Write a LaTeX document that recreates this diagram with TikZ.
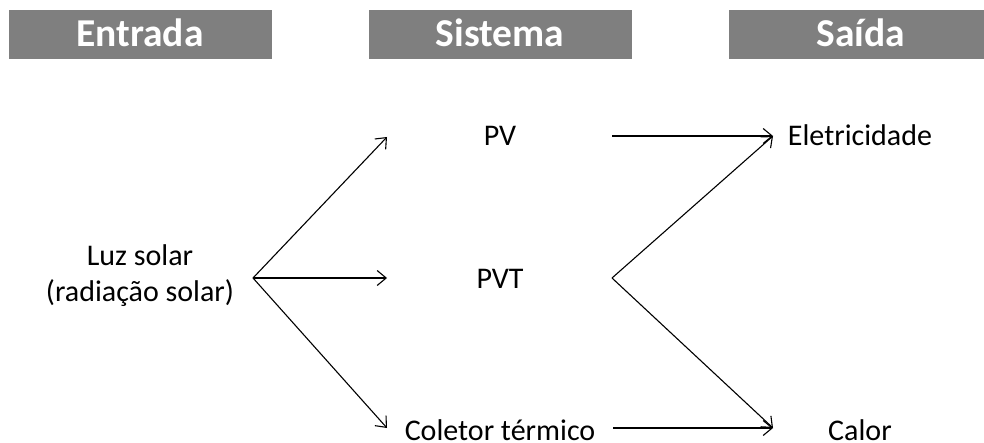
\documentclass[tikz,border=0pt]{standalone}
\usepackage{fontspec}
\setmainfont{Carlito}
\usetikzlibrary{arrows.meta}
\definecolor{hdrgray}{HTML}{7F7F7F}
\begin{document}
\begin{tikzpicture}[x=1pt,y=-1pt,
  hdrbox/.style={fill=hdrgray,draw=none},
  hdrtext/.style={anchor=base,text=white,font=\fontsize{39.5}{47}\selectfont\bfseries,inner sep=0pt},
  lbl/.style={anchor=base,font=\fontsize{30}{36}\selectfont,inner sep=0pt},
  conn/.style={line width=1.1pt,-{Straight Barb[length=9pt,width=15pt,line width=1.1pt]}}]
\useasboundingbox (0,0) rectangle (984,443);
% header boxes
\fill[hdrbox] (9,10) rectangle (272,59);
\fill[hdrbox] (369,10) rectangle (632,59);
\fill[hdrbox] (729,10) rectangle (984,59);
\node[hdrtext] (hin) at (140,47) {Entrada};
\node[hdrtext] (hsys) at (500,47) {Sistema};
\node[hdrtext] (hout) at (861,47) {Saída};
% labels
\node[lbl,align=center,anchor=north] (luz) at (140,244) {Luz solar\\(radiação solar)};
\node[lbl] (pv) at (500,146) {PV};
\node[lbl] (pvt) at (500,289) {PVT};
\node[lbl,text depth=0pt] (col) at (500,440) {Coletor térmico};
\node[lbl] (ele) at (860,146) {Eletricidade};
\node[lbl,text depth=0pt] (cal) at (860,440) {Calor};
% connector points
\coordinate (src) at (253,278);
\coordinate (pvin) at (387,137);
\coordinate (pvtin) at (387,278);
\coordinate (colin) at (387,428);
\coordinate (pvout) at (612,136);
\coordinate (pvtout) at (612,278);
\coordinate (colout) at (613,428);
\coordinate (elein) at (773,136);
\coordinate (calin) at (773,428);
% connectors
\draw[conn] (src) -- (pvin);
\draw[conn] (src) -- (pvtin);
\draw[conn] (src) -- (colin);
\draw[conn] (pvout) -- (elein);
\draw[conn] (pvtout) -- (elein);
\draw[conn] (pvtout) -- (calin);
\draw[conn] (colout) -- (calin);
\end{tikzpicture}
\end{document}
